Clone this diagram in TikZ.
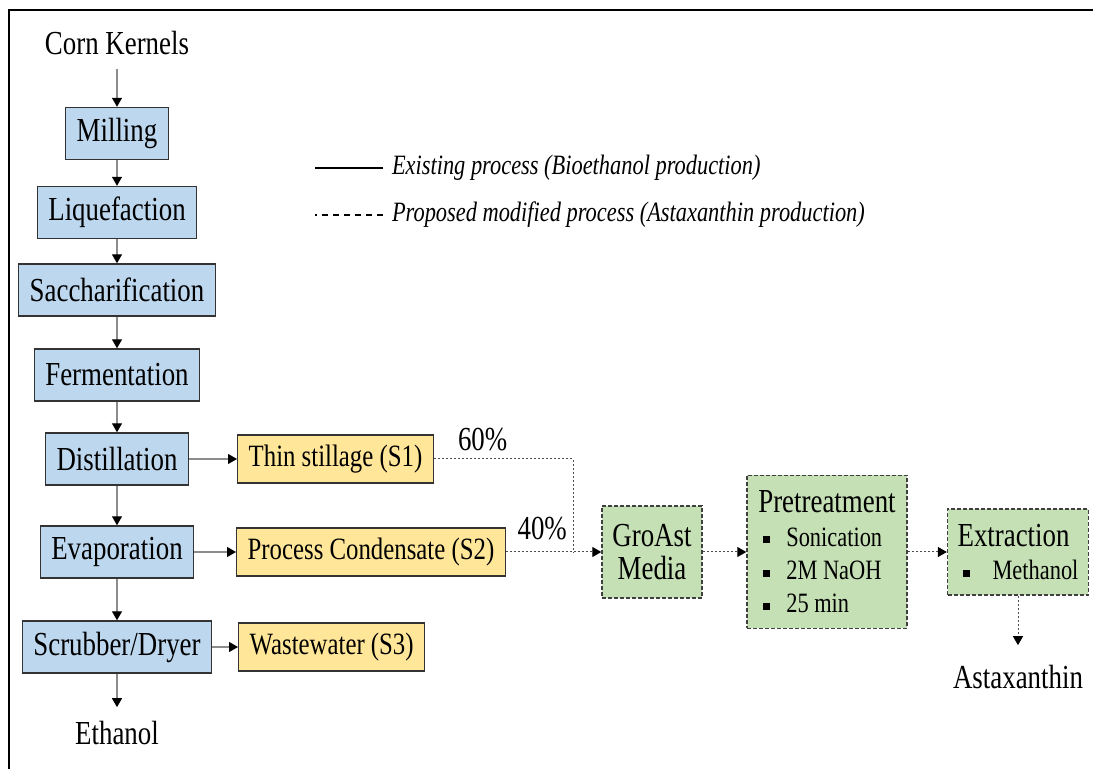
\documentclass[tikz,border=0pt]{standalone}
\usepackage{fontspec}
\setmainfont{Liberation Serif}[FakeStretch=0.8]
\usepackage{tikz}
\usetikzlibrary{positioning}
\usetikzlibrary{calc}
\usetikzlibrary{arrows.meta}
\definecolor{stageblue}{RGB}{189,215,238}
\definecolor{streamyellow}{RGB}{255,230,153}
\definecolor{newgreen}{RGB}{197,224,180}
\newcommand{\stagehead}{\fontsize{16.8}{16.7}\selectfont}
\newcommand{\sqitem}[2][11.5pt]{\hspace*{2.5pt}\makebox[#1][l]{\rule[1.5pt]{3.5pt}{3.5pt}}#2}

\begin{document}
\begin{tikzpicture}[x=0.5pt, y=-0.5pt, >={Triangle[length=4.5pt,width=5pt,color=black]}]
			\tikzstyle{stage}=[draw=black!80, line width=0.7pt, fill=stageblue, minimum height=26pt, inner xsep=5.5pt, font=\fontsize{16.8}{17}\selectfont]
			\tikzstyle{stream}=[draw=black!80, line width=0.7pt, fill=streamyellow, minimum height=24pt, inner xsep=5.5pt, font=\fontsize{15.5}{17}\selectfont]
			\tikzstyle{newstage}=[draw=black!75, line width=0.7pt, dash pattern=on 2pt off 1pt, fill=newgreen, inner xsep=5pt, font=\fontsize{14}{16.7}\selectfont]
			\tikzstyle{term}=[inner sep=2pt, outer sep=5pt, font=\fontsize{16.8}{17}\selectfont]
			\tikzstyle{pct}=[inner sep=2pt, font=\fontsize{16.8}{17}\selectfont]
			\tikzstyle{legend}=[inner sep=2pt, outer sep=2.5pt, font=\fontsize{14}{16}\selectfont\itshape]
			\tikzstyle{flow}=[->, draw=black!45, line width=0.6pt]
			\tikzstyle{newline}=[draw=black!70, line width=0.5pt, dash pattern=on 1.2pt off 0.8pt]
			\tikzstyle{newflow}=[->, newline]
			
			\useasboundingbox (0,0) rectangle (1093,769);
			\draw [line width=1pt] (9,769) |- (1093,10);
			
			% existing process
			\draw node at (117, 43) [term] (corn) {Corn Kernels};
			\draw node at (117, 133.5) [stage] (mill) {Milling};
			\draw node at (117, 212.5) [stage] (liq) {Liquefaction};
			\draw node at (117, 290) [stage] (sacc) {Saccharification};
			\draw node at (117, 375) [stage] (ferm) {Fermentation};
			\draw node at (117, 459) [stage] (dist) {Distillation};
			\draw node at (117, 552) [stage] (evap) {Evaporation};
			\draw node at (117, 647) [stage] (scrub) {Scrubber/Dryer};
			\draw node at (117, 733) [term] (eth) {Ethanol};
			
			\draw [flow]  (corn) to (mill);
			\draw [flow]  (mill) to (liq);
			\draw [flow]  (liq) to (sacc);
			\draw [flow]  (sacc) to (ferm);
			\draw [flow]  (ferm) to (dist);
			\draw [flow]  (dist) to (evap);
			\draw [flow]  (evap) to (scrub);
			\draw [flow]  (scrub) to (eth);
			
			\draw node at (237, 459) [stream, anchor=west] (thin) {Thin stillage (S1)};
			\draw node at (236, 552) [stream, anchor=west] (cond) {Process Condensate (S2)};
			\draw node at (238, 647) [stream, anchor=west] (waste) {Wastewater (S3)};
			
			\draw [flow]  (dist) to (thin);
			\draw [flow]  (evap) to (cond);
			\draw [flow]  (scrub) to (waste);
			
			% proposed process
			\draw node at (652, 552) [newstage, align=center, font=\stagehead, minimum width=50pt, minimum height=46pt] (gro) {GroAst\\Media};
			\draw node at (827, 552) [newstage, align=left, minimum width=80pt, minimum height=76.5pt] (pre) {{\stagehead Pretreatment}\\\sqitem{Sonication}\\\sqitem{2M NaOH}\\\sqitem{25 min}};
			\draw node at (1018, 552) [newstage, align=left, minimum width=70pt, minimum height=43pt] (ext) {{\stagehead Extraction}\\\sqitem[15pt]{Methanol}};
			\draw node at (1018, 677) [term, outer sep=8pt] (asta) {Astaxanthin};
			
			\coordinate (merge) at (573, 552);
			\draw [newline]  (thin) -| node[pos=0.175, above=2pt, pct]{60\%} (merge);
			\draw [newflow]  (cond) to node[pos=0.38, above=4pt, pct]{40\%} (gro);
			\draw [newflow]  (gro) to (pre);
			\draw [newflow]  (pre) to (ext);
			\draw [newflow]  (ext) to (asta);
			
			% legend
			\draw node at (383, 175) [legend, anchor=base west] (legold) {Existing process (Bioethanol production)};
			\draw node at (383, 222) [legend, anchor=base west] (legnew) {Proposed modified process (Astaxanthin production)};
			\draw [line width=0.8pt]  (legold.west) to ++(-68, 0);
			\draw [line width=0.8pt, dash pattern=on 3pt off 2.5pt]  (legnew.west) to ++(-68, 0);
\end{tikzpicture}
\end{document}
